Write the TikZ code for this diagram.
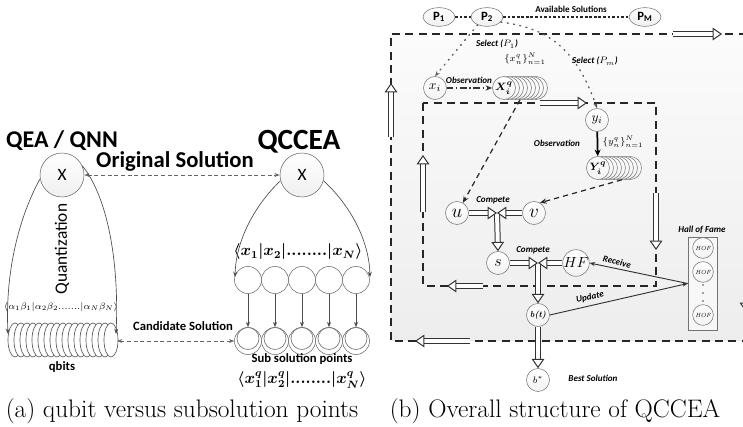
\documentclass[tikz,border=0pt]{standalone}
\usepackage{fontspec}
\usepackage{amsmath}
\usepackage{bm}
\newfontfamily\cfont{Carlito}
\usetikzlibrary{arrows.meta,calc,shapes.geometric}

\tikzset{
  lbl/.style={font=\cfont\bfseries\itshape\fontsize{6.8}{7}\selectfont, inner sep=0.5pt},
  bub/.style={circle, draw=black!55, top color=white, bottom color=gray!10, minimum size=17.25pt, inner sep=0pt},
  bigx/.style={circle, draw=black!60, top color=white, bottom color=gray!12, minimum size=33pt, inner sep=0pt, font=\cfont\fontsize{13}{13}\selectfont},
  rowc/.style={circle, draw=black!60, fill=white, minimum size=20.25pt, inner sep=0pt},
  hollow/.style={draw=black!80, line width=0.75pt, double=white, double distance=3pt,
    -{Triangle[length=7pt, width=9.5pt, fill=white, line width=0.75pt]}},
  boxdash/.style={draw=black!85, line width=0.9pt, dash pattern=on 6pt off 4pt},
  thinarr/.style={-{Stealth[length=4pt,width=3pt]}, draw=black!70, line width=0.5pt},
  dasharr/.style={{Stealth[length=4pt,width=3pt]}-{Stealth[length=4pt,width=3pt]}, draw=black!60, line width=0.6pt, dash pattern=on 3pt off 2pt},
  seldot/.style={draw=black!65, line width=1pt, dash pattern=on 0.8pt off 4pt, line cap=round, -{Stealth[length=4pt,width=3pt]}},
  popdash/.style={draw=black!85, line width=1pt, dash pattern=on 2pt off 1.4pt},
  midarr/.style={draw=black!85, line width=0.9pt, dash pattern=on 4pt off 3pt, -{Stealth[length=5pt,width=4pt]}},
  popnode/.style={ellipse, draw=black!55, top color=white, bottom color=gray!12, minimum width=24pt, minimum height=14pt, inner sep=0pt, font=\cfont\bfseries\fontsize{9.5}{10}\selectfont},
}

\begin{document}
\begin{tikzpicture}[x=0.75pt,y=-0.75pt]
\clip (0,0) rectangle (743,427);

%---------------- (a) qubits vs sub-solution points ----------------
\node[font=\cfont\bfseries\fontsize{18}{18}\selectfont] (tq) at (62,141) {QEA / QNN};
\node[font=\cfont\bfseries\fontsize{22}{22}\selectfont] (tc) at (299,142) {QCCEA};
\node[font=\cfont\bfseries\fontsize{17}{17}\selectfont] (to) at (175,161) {Original Solution};

\node[bigx] (qx) at (62,175) {X};
\node[bigx] (cx) at (302,175) {X};
\draw[dasharr] (qx) -- (cx);

\node[rotate=90, font=\cfont\fontsize{13}{13}\selectfont] (qt) at (62,249) {Quantization};
\node[font=\fontsize{7.3}{8}\selectfont, inner sep=0pt] (al) at (61,307)
  {$\langle\alpha_1\beta_1|\alpha_2\beta_2{.}{.}{.}{.}{.}{.}{.}|\alpha_N\beta_N\rangle$};

% stacked qubit discs, back to front
\foreach \k in {0,...,16}
  \draw[draw=black!65, line width=0.5pt, fill=white] ({15+6*\k},340) ellipse [x radius=7, y radius=17];
\coordinate (qf) at (117,341);
\node[font=\cfont\bfseries\fontsize{9.5}{10}\selectfont] (qb) at (62,367) {qbits};

\coordinate (qa) at (8,334);
\coordinate (qc) at (116,334);
\draw[thinarr] (qx.190) .. controls (20,215) and (5,270) .. (qa);
\draw[thinarr] (qx.25) .. controls (110,200) and (119,270) .. (qc);

\node[font=\cfont\bfseries\fontsize{9.5}{10}\selectfont] (cand) at (183,326) {Candidate Solution};

\node[font=\fontsize{12}{12}\selectfont] (xl) at (298,252)
  {$\boldsymbol{\langle x_1|x_2|{.}{.}{.}{.}{.}{.}{.}{.}|x_N\rangle}$};

\foreach \i/\x in {1/248,2/275,3/302,4/329,5/356} {
  \node[rowc] (t\i) at (\x,280) {};
  \node[rowc] (b\i) at (\x,341) {};
  \draw[draw=black!55, line width=0.5pt] (\x,338.5) circle [radius=11];
  \draw[thinarr] (t\i.south) -- (b\i.north);
}
\draw[dasharr] (qf) -- (b1.west);

\coordinate (ca) at (235,277);
\coordinate (cb) at (370,277);
\draw[thinarr] (cx.195) .. controls (255,205) and (236,240) .. (ca);
\draw[thinarr] (cx.-15) .. controls (350,205) and (369,240) .. (cb);

\node[font=\cfont\bfseries\fontsize{9.5}{10}\selectfont] (sp) at (302,359) {Sub solution points};
\node[font=\fontsize{12}{12}\selectfont] (xq) at (302,380)
  {$\boldsymbol{\langle x_1^q|x_2^q|{.}{.}{.}{.}{.}{.}{.}{.}|x_N^q\rangle}$};

%---------------- (b) overall structure ----------------
\fill[top color=gray!3, bottom color=gray!14] (391,34) rectangle (760,341);
\draw[boxdash] (760,34) -- (391,34) -- (391,341) -- (760,341);
\draw[boxdash] (423,103) rectangle (656,286);

% circulation arrows on the loops
\draw[hollow] (673,34) -- (722,34);
\draw[hollow] (391,137) -- (391,83);
\draw[hollow] (470,341) -- (415,341);
\draw[hollow] (746,257) -- (746,312);
\draw[hollow] (540,103) -- (587,103);
\draw[hollow] (423,212) -- (423,155);
\draw[hollow] (656,193) -- (656,250);
\draw[hollow] (483,286) -- (447,286);

% population
\node[popnode] (p1) at (439,17) {P\textsubscript{1}};
\node[popnode] (p2) at (487,17) {P\textsubscript{2}};
\node[popnode] (pm) at (645,17) {P\textsubscript{M}};
\draw[popdash] (p1) -- (p2);
\draw[popdash] (p2) -- (pm);
\node[lbl, font=\cfont\bfseries\fontsize{6.8}{7}\selectfont] (avs) at (571,9) {Available Solutions};

% observation of x_i
\node[bub, font=\fontsize{10}{10}\selectfont] (xi) at (435,88) {$x_i$};
\foreach \k in {8,7,...,1}
  \node[bub] (Xq\k) at ({504+4*\k},88) {};
\node[bub, font=\fontsize{8}{8}\selectfont] (Xq0) at (504,88) {$\bm{X_i^q}$};
\draw[draw=black!80, line width=1pt, dash pattern=on 5pt off 2pt on 1pt off 2pt, -{Stealth[length=5pt,width=4pt]}] (xi) -- (Xq0);
\node[lbl] (obx) at (469,80) {Observation};
\node[font=\fontsize{7.5}{8}\selectfont, inner sep=0pt] (setx) at (525,59) {$\{x_n^q\}_{n=1}^N$};

% observation of y_i
\node[bub, font=\fontsize{10}{10}\selectfont] (yi) at (597,120) {$y_i$};
\foreach \k in {8,7,...,1}
  \node[bub] (Yq\k) at ({598+4*\k},168) {};
\node[bub, font=\fontsize{8}{8}\selectfont] (Yq0) at (598,168) {$\bm{Y_i^q}$};
\draw[draw=black, line width=1.3pt, -{Stealth[length=5pt,width=4.5pt]}] (yi) -- (Yq0);
\node[lbl] (oby) at (557,143) {Observation};
\node[font=\fontsize{7.5}{8}\selectfont, inner sep=0pt] (sety) at (623,142) {$\{y_n^q\}_{n=1}^N$};

% selection from the population
\draw[seldot] (p2.220) -- (xi.north);
\draw[seldot] (p2.-20) .. controls (545,28) and (575,45) .. (yi.north);
\node[lbl] (sl1) at (497,44) {Select ($P_{1}$)};
\node[lbl] (sl2) at (595,61) {Select ($P_{m}$)};

% competition
\node[bub, font=\fontsize{14}{14}\selectfont] (u) at (457,213) {$u$};
\node[bub, font=\fontsize{14}{14}\selectfont] (v) at (534,213) {$v$};
\node[bub, font=\fontsize{13}{13}\selectfont] (s) at (498,263) {$s$};
\node[bub, font=\fontsize{11}{11}\selectfont] (hf) at (576,263) {$HF$};
\node[bub, font=\bfseries\itshape\fontsize{6.5}{7}\selectfont] (bt) at (538,315) {b(t)};
\node[bub, font=\fontsize{7}{7}\selectfont] (bs) at (538,380) {$b^*$};

\draw[midarr] (Xq4.south) -- (u.60);
\draw[midarr] (Yq6.south) -- (v.60);

\coordinate (m1) at (497,213);
\coordinate (m2) at (538,263);
\draw[hollow] (m1) -- (s.north);
\draw[hollow] (u.east) -- (m1);
\draw[hollow] (v.west) -- (m1);
\draw[hollow] (m2) -- (bt.north);
\draw[hollow] (s.east) -- (m2);
\draw[hollow] (hf.west) -- (m2);
\draw[hollow] (bt.south) -- (bs.north);
\node[lbl] (cp1) at (493,200) {Compete};
\node[lbl] (cp2) at (533,250) {Compete};
\node[lbl] (bsl) at (593,378) {Best Solution};

% hall of fame
\node[draw=black!55, fill=gray!6, minimum width=21.75pt, minimum height=69.75pt, inner sep=0pt] (hof) at (702.5,283.5) {};
\node[lbl] (hofl) at (702,230) {Hall of Fame};
\foreach \i/\y in {1/248,2/272,3/315}
  \node[bub, minimum size=15.5pt, font=\itshape\fontsize{4.5}{5}\selectfont] (h\i) at (703,\y) {HOF};
\foreach \y in {285,293,301}
  \fill[black!70] (703,\y) circle [radius=0.9];

\draw[thinarr, draw=black!80, line width=0.7pt] (hof.west) -- (hf.east);
\draw[thinarr, draw=black!80, line width=0.7pt] (bt.east) -- (hof.west);
\node[lbl, rotate=-13] (rcv) at (617,262) {Receive};
\node[lbl, rotate=12] (upd) at (590,297) {Update};

%---------------- captions ----------------
\node[font=\fontsize{19}{20}\selectfont, inner sep=0pt] (capa) at (182,411) {(a) qubit versus subsolution points};
\node[font=\fontsize{19}{20}\selectfont, inner sep=0pt] (capb) at (555,411) {(b) Overall structure of QCCEA};
\end{tikzpicture}
\end{document}
